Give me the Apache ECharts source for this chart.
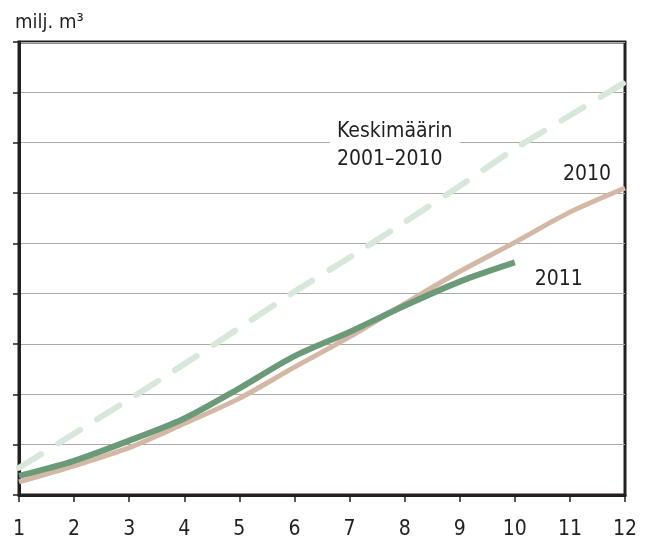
<!DOCTYPE html>
<html>
<head>
<meta charset="utf-8">
<script src="https://cdn.jsdelivr.net/npm/echarts@6/dist/echarts.min.js"></script>
<style>
  html, body { margin: 0; padding: 0; background: #fff; }
  #chart { width: 651px; height: 542px; }
</style>
</head>
<body>
<div id="chart"></div>
<script>
const months = ["1", "2", "3", "4", "5", "6", "7", "8", "9", "10", "11", "12"];
const avg2001to2010 = [2.7, 6.1, 9.5, 13.0, 16.6, 20.2, 23.6, 27.1, 30.7, 34.4, 37.7, 41.0];
const year2010 = [1.3, 2.9, 4.7, 7.1, 9.6, 12.7, 15.7, 19.0, 22.2, 25.1, 28.1, 30.5];
const year2011 = [1.9, 3.4, 5.4, 7.6, 10.6, 13.8, 16.2, 18.8, 21.2, 23.1];

const font = "'Liberation Sans Narrow', 'DejaVu Sans Condensed', sans-serif";
const ink = "#231f20";

const chart = echarts.init(document.getElementById("chart"));
chart.setOption({
  animation: false,
  textStyle: { fontFamily: font },
  grid: {
    left: 19,
    right: 26,
    top: 42,
    bottom: 47,
    show: true,
    borderColor: ink,
    borderWidth: 3,
    containLabel: false,
  },
  graphic: [
    {
      type: "text",
      left: 15,
      top: 13,
      style: { text: "milj. m³", fontFamily: font, fontSize: 20, fill: ink },
    },
    {
      type: "text",
      left: 330,
      top: 118,
      z: 10,
      style: {
        text: "Keskimäärin\n2001–2010",
        fontFamily: font,
        fontSize: 21,
        lineHeight: 28,
        fill: ink,
        backgroundColor: "#fff",
        padding: [0, 7, 0, 7],
      },
    },
  ],
  xAxis: {
    type: "category",
    data: months,
    boundaryGap: false,
    axisLine: { lineStyle: { color: ink, width: 3 } },
    axisTick: { show: true, length: 7, lineStyle: { color: ink, width: 1.5 } },
    axisLabel: { fontSize: 21, color: ink, margin: 24, fontFamily: font },
    splitLine: { show: false },
  },
  yAxis: {
    type: "value",
    min: 0,
    max: 45,
    interval: 5,
    axisLine: { show: true, lineStyle: { color: ink, width: 3 } },
    axisTick: { show: true, length: 6, lineStyle: { color: ink, width: 1.5 } },
    axisLabel: { show: false },
    splitLine: { lineStyle: { color: "#aaaaaa", width: 1 } },
  },
  series: [
    {
      name: "Keskimäärin 2001–2010",
      type: "line",
      data: avg2001to2010,
      showSymbol: false,
      smooth: 0.2,
      z: 2,
      lineStyle: { color: "#d7e7da", width: 6, type: [26, 20], cap: "round" },
    },
    {
      name: "2010",
      type: "line",
      data: year2010,
      showSymbol: false,
      smooth: 0.3,
      z: 3,
      lineStyle: { color: "#d3b8a6", width: 5 },
      endLabel: {
        show: true,
        formatter: "2010",
        fontSize: 21,
        color: ink,
        fontFamily: font,
        offset: [-70, -13],
      },
    },
    {
      name: "2011",
      type: "line",
      data: year2011,
      showSymbol: false,
      smooth: 0.3,
      z: 4,
      lineStyle: { color: "#6a9a78", width: 6 },
      endLabel: {
        show: true,
        formatter: "2011",
        fontSize: 21,
        color: ink,
        fontFamily: font,
        offset: [12, 17],
      },
    },
  ],
});
</script>
</body>
</html>
